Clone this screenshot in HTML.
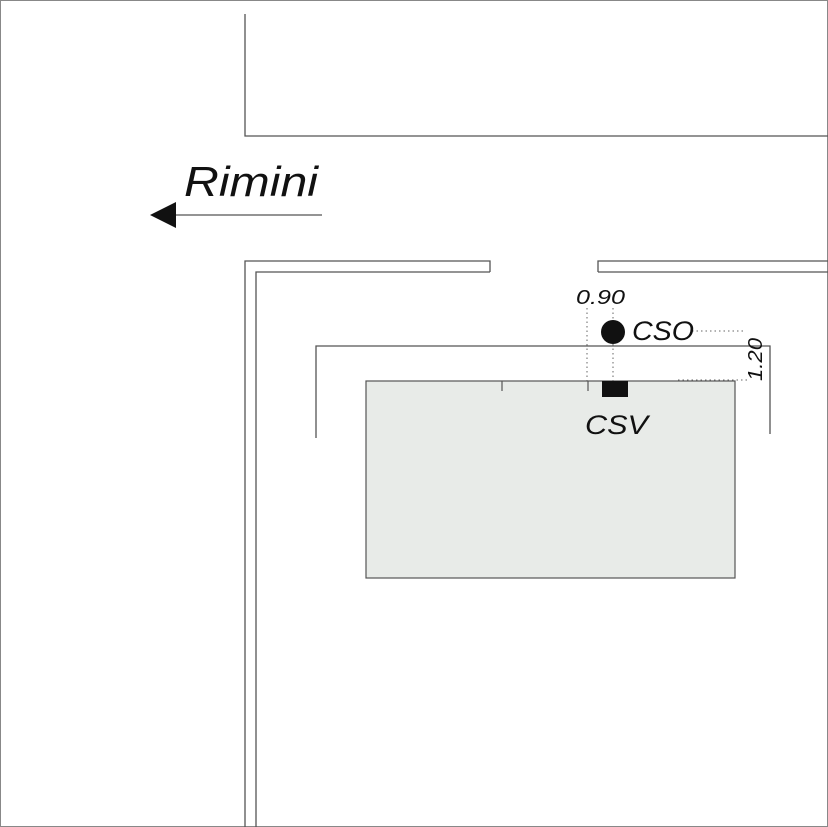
<!DOCTYPE html>
<html><head><style>body{margin:0;background:#fff}</style></head><body>
<svg width="828" height="827" xmlns="http://www.w3.org/2000/svg" style="display:block">
<rect x="0.5" y="0.5" width="827" height="826" fill="#fff" stroke="#888" stroke-width="1"/>
<g fill="none" stroke="#555" stroke-width="1.3">
<path d="M245,14 V136 H828"/>
<path d="M245,827 V261 H490 V272"/>
<path d="M256,827 V272 H490"/>
<path d="M598,272 V261 H828"/>
<path d="M598,272 H828"/>
<path d="M316,438 V346 H770 V434"/>
</g>
<rect x="366" y="381" width="369" height="197" fill="#e8ebe8" stroke="#555" stroke-width="1.2"/>
<g stroke="#555" stroke-width="1.2"><line x1="502" y1="381" x2="502" y2="391"/><line x1="588" y1="381" x2="588" y2="391"/></g>
<g stroke="#666" stroke-width="1" stroke-dasharray="1.5,3">
<line x1="587" y1="308" x2="587" y2="381"/><line x1="613" y1="308" x2="613" y2="381"/>
<line x1="692" y1="331" x2="746" y2="331"/><line x1="678" y1="380" x2="750" y2="380"/>
</g>
<circle cx="613" cy="332" r="12" fill="#111"/>
<rect x="602" y="381" width="26" height="16" fill="#111"/>
<line x1="160" y1="215" x2="322" y2="215" stroke="#555" stroke-width="1.3"/>
<polygon points="150,215 176,202 176,228" fill="#111"/>
<g font-family="Liberation Sans, sans-serif" font-style="italic" fill="#111">
<text x="184" y="196" font-size="42" textLength="134" lengthAdjust="spacingAndGlyphs">Rimini</text>
<text x="632" y="340" font-size="27" textLength="62" lengthAdjust="spacingAndGlyphs">CSO</text>
<text x="585" y="434" font-size="27" textLength="63" lengthAdjust="spacingAndGlyphs">CSV</text>
<text x="576" y="304" font-size="20" textLength="49" lengthAdjust="spacingAndGlyphs">0.90</text>
<text transform="translate(762,381) rotate(-90)" font-size="20" textLength="43" lengthAdjust="spacingAndGlyphs">1.20</text>
</g>
</svg>
</body></html>
